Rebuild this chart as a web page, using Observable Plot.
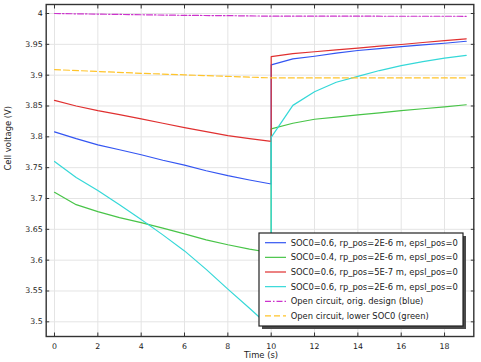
<!DOCTYPE html>
<html><head><meta charset="utf-8">
<script src="https://cdn.jsdelivr.net/npm/d3@7"></script>
<script src="https://cdn.jsdelivr.net/npm/@observablehq/plot@0.6"></script>
<style>body{margin:0;background:#fff} #chart{position:relative;width:481px;height:362px}</style>
</head><body><div id="chart"></div>
<script>
// time grids
const tDischarge = [0,1,2,3,4,5,6,7,8,9,10];
const tRelax = [10,11,12,13,14,15,16,17,18,19];
// series values (V)
const blueDis  = [3.808,3.797,3.787,3.779,3.771,3.762,3.754,3.745,3.737,3.730,3.7235];
const blueRel  = [3.9167,3.9264,3.9307,3.9356,3.940,3.943,3.9464,3.949,3.9518,3.955];
const greenDis = [3.710,3.690,3.6786,3.669,3.661,3.652,3.6426,3.633,3.625,3.618,3.612];
const greenRel = [3.813,3.822,3.8285,3.832,3.8355,3.839,3.8425,3.8455,3.8485,3.852];
const redDis   = [3.859,3.850,3.8425,3.836,3.829,3.822,3.815,3.8085,3.802,3.797,3.7927];
const redRel   = [3.930,3.935,3.938,3.941,3.9437,3.947,3.9497,3.953,3.956,3.959];
const cyanDis  = [3.760,3.734,3.713,3.690,3.666,3.641,3.615,3.585,3.553,3.522,3.490];
const cyanRel  = [3.799,3.851,3.873,3.8885,3.898,3.9075,3.9156,3.922,3.9275,3.932];
const ocTimes  = [0,2,4,6,8,10,19];
const ocOrig   = [4.000,3.999,3.998,3.997,3.9965,3.9957,3.9955];
const ocLower  = [3.909,3.906,3.903,3.9005,3.898,3.8956,3.8956];
const seriesNames = [
  "SOC0=0.6, rp_pos=2E-6 m, epsl_pos=0",
  "SOC0=0.4, rp_pos=2E-6 m, epsl_pos=0",
  "SOC0=0.6, rp_pos=5E-7 m, epsl_pos=0",
  "SOC0=0.6, rp_pos=2E-6 m, epsl_pos=0",
  "Open circuit, orig. design (blue)",
  "Open circuit, lower SOC0 (green)"
];
const seriesColors = ["#3355f2","#48c448","#e03030","#35d8d8","#cc33cc","#ffc42a"];
const seriesDash = [null,null,null,null,"6,2,1.5,2","6,3"];
const xTicks = [0,2,4,6,8,10,12,14,16,18];
const yTicks = [3.5,3.55,3.6,3.65,3.7,3.75,3.8,3.85,3.9,3.95,4];
const xLabel = "Time (s)";
const yLabel = "Cell voltage (V)";

function rows(times, vals){ return times.map((t,i)=>({t, v: vals[i]})); }
const curves = [
  rows(tDischarge, blueDis).concat(rows(tRelax, blueRel)),
  rows(tDischarge, greenDis).concat(rows(tRelax, greenRel)),
  rows(tDischarge, redDis).concat(rows(tRelax, redRel)),
  rows(tDischarge, cyanDis).concat(rows(tRelax, cyanRel)),
  rows(ocTimes, ocOrig),
  rows(ocTimes, ocLower)
];
const fmt = d => String(+d.toFixed(2));
const font = "DejaVu Sans, sans-serif";

const plot = Plot.plot({
  width: 481, height: 362,
  marginLeft: 45.7, marginRight: 7.7, marginTop: 4, marginBottom: 26,
  style: {fontFamily: font, fontSize: "7.8px", color: "#222", background: "#fff"},
  x: {domain: [-0.383, 19.35]},
  y: {domain: [3.4762, 4.0146]},
  marks: [
    Plot.gridX(xTicks, {stroke: "#e4e4e4", strokeOpacity: 1}),
    Plot.gridY(yTicks, {stroke: "#e4e4e4", strokeOpacity: 1}),
    ...curves.map((c, i) => Plot.line(c, {x: "t", y: "v", stroke: seriesColors[i], strokeWidth: 1.2, strokeDasharray: seriesDash[i]})),
    Plot.axisX(xTicks, {anchor: "bottom", tickSize: -3.5, tickPadding: 10.5, tickFormat: fmt, label: null, stroke: "#333"}),
    Plot.axisX(xTicks, {anchor: "top", tickSize: -3.5, tickFormat: () => "", label: null, stroke: "#333"}),
    Plot.axisY(yTicks, {anchor: "left", tickSize: -3.5, tickPadding: 7, tickFormat: fmt, label: null, stroke: "#333"}),
    Plot.axisY(yTicks, {anchor: "right", tickSize: -3.5, tickFormat: () => "", label: null, stroke: "#333"}),
    Plot.frame({stroke: "#333", strokeWidth: 1.4}),
    Plot.text([xLabel], {frameAnchor: "bottom", lineAnchor: "middle", dy: 18.5, dx: 1, fontSize: 8.4, fill: "#222"}),
    Plot.text([yLabel], {frameAnchor: "left", dx: -38, rotate: -90, fontSize: 8.4, fill: "#222"})
  ]
});
document.getElementById("chart").appendChild(plot);

// legend (inside plot area, lower right)
const svg = d3.select(plot);
const lg = svg.append("g").attr("font-family", font).attr("font-size", 8.4).attr("text-anchor", "start");
const bx = 259, by = 233, bw = 204, bh = 93;
lg.append("rect").attr("x", bx + 3).attr("y", by + 3).attr("width", bw).attr("height", bh).attr("fill", "#4a4a4a");
lg.append("rect").attr("x", bx).attr("y", by).attr("width", bw).attr("height", bh).attr("fill", "#fff").attr("stroke", "#222").attr("stroke-width", 1.2);
seriesNames.forEach((name, i) => {
  const yy = by + 9.7 + i * 14.65;
  lg.append("line").attr("x1", bx + 6).attr("x2", bx + 27).attr("y1", yy).attr("y2", yy)
    .attr("stroke", seriesColors[i]).attr("stroke-width", 1.2).attr("stroke-dasharray", seriesDash[i]);
  lg.append("text").attr("x", bx + 31.7).attr("y", yy).attr("dy", "0.35em").attr("fill", "#222")
    .attr("text-anchor", "start").text(name);
});
</script></body></html>
